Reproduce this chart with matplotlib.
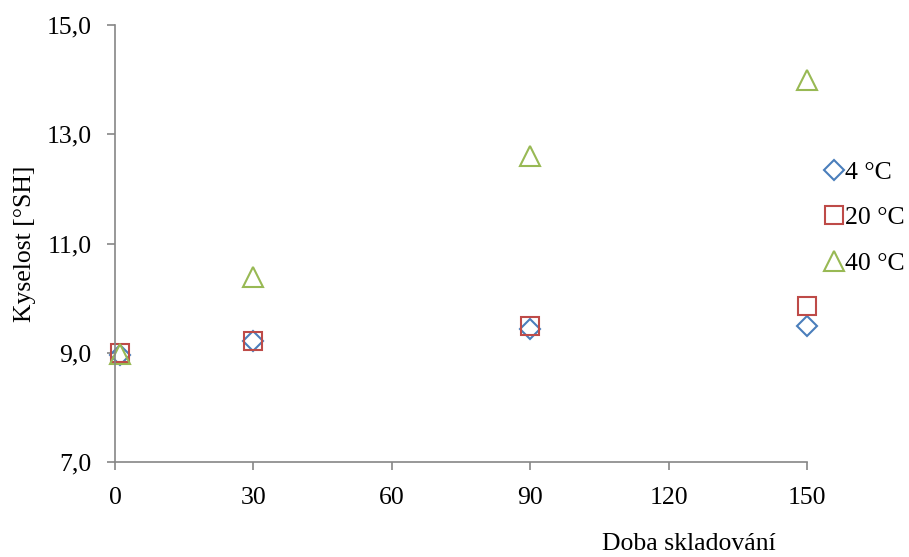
import matplotlib.pyplot as plt
from matplotlib.ticker import FuncFormatter

# Storage time (days) and acidity values per storage temperature
days = [1, 30, 90, 150]
acid_4c = [8.96, 9.22, 9.43, 9.49]
acid_20c = [8.99, 9.22, 9.49, 9.86]
acid_40c = [8.98, 10.38, 12.60, 13.99]
series_labels = ["4 °C", "20 °C", "40 °C"]

plt.rcParams['font.family'] = ['Liberation Serif', 'DejaVu Serif']

fig = plt.figure(figsize=(9.09, 5.57), dpi=100)
ax = fig.add_axes([115 / 909, 95 / 557, (807 - 115) / 909, (462 - 25) / 557])

axis_grey = '#868686'
ax.plot(days, acid_4c, linestyle='none', marker='D', markersize=10.5,
        markerfacecolor='none', markeredgecolor='#4A7EBB', markeredgewidth=1.5,
        label=series_labels[0])
ax.plot(days, acid_20c, linestyle='none', marker='s', markersize=13.5,
        markerfacecolor='none', markeredgecolor='#BE4B48', markeredgewidth=1.5,
        label=series_labels[1])
ax.plot(days, acid_40c, linestyle='none', marker='^', markersize=15,
        markerfacecolor='none', markeredgecolor='#98B954', markeredgewidth=1.5,
        label=series_labels[2])

ax.set_xlim(0, 150)
ax.set_ylim(7, 15)
ax.set_xticks([0, 30, 60, 90, 120, 150])
ax.set_yticks([7, 9, 11, 13, 15])
ax.yaxis.set_major_formatter(FuncFormatter(lambda v, p: f"{v:.1f}".replace('.', ',')))

for side in ('top', 'right'):
    ax.spines[side].set_visible(False)
for side in ('left', 'bottom'):
    ax.spines[side].set_color(axis_grey)
    ax.spines[side].set_linewidth(1.2)
ax.tick_params(axis='both', direction='out', length=6, width=1.2, color=axis_grey,
               labelsize=18.5)
ax.tick_params(axis='y', pad=11)
ax.tick_params(axis='x', pad=12)
for line in ax.lines:
    line.set_clip_on(False)

ax.set_ylabel("Kyselost [°SH]", fontsize=18.5)
ax.yaxis.set_label_coords(-(115 - 36) / (807 - 115), 0.5)
ax.set_xlabel("Doba skladování", fontsize=18.5)
ax.xaxis.set_label_coords((689 - 115) / (807 - 115), -(533 - 462) / (462 - 25))

ax.legend(loc='center left', bbox_to_anchor=(826 / 909, 1 - 218 / 557),
          bbox_transform=fig.transFigure, frameon=False, fontsize=18.5,
          handlelength=0.6, handletextpad=0.15, labelspacing=0.86, borderpad=0,
          borderaxespad=0)

fig.savefig('out.png', dpi=100)
